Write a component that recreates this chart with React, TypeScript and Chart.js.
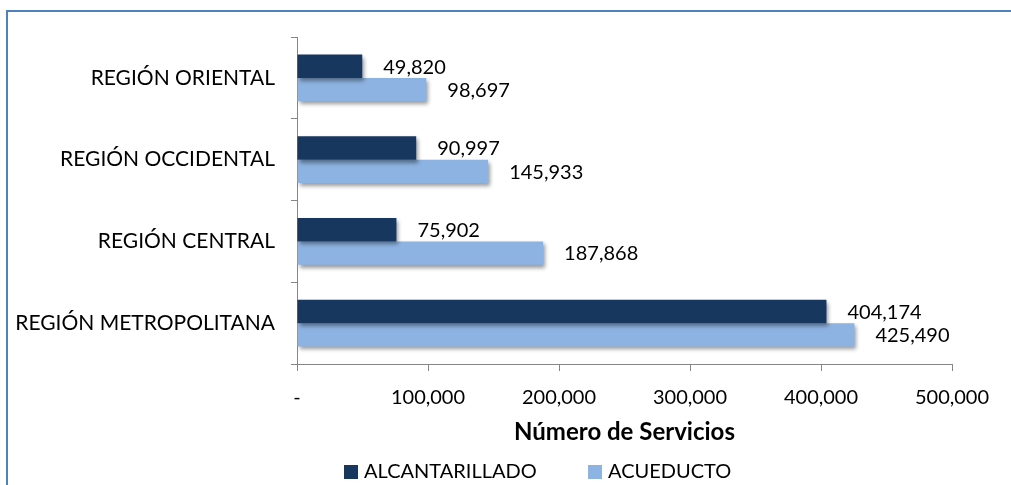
import { useEffect, useRef } from "react";
import { Chart, registerables } from "chart.js";
Chart.register(...registerables);

const categories = ["REGIÓN ORIENTAL", "REGIÓN OCCIDENTAL", "REGIÓN CENTRAL", "REGIÓN METROPOLITANA"];
const alcantarillado = [49820, 90997, 75902, 404174];
const acueducto = [98697, 145933, 187868, 425490];
const seriesNames = ["ALCANTARILLADO", "ACUEDUCTO"];
const seriesColors = ["#17375E", "#8DB3E2"];
const xMax = 500000;
const xStep = 100000;
const xTitle = "Número de Servicios";

const FONT = "Lato";
const FS = 20;
const fmt = (v: number) => (v === 0 ? "-" : v.toLocaleString("en-US"));

export default function App() {
  const ref = useRef<HTMLCanvasElement>(null);
  useEffect(() => {
    const canvas = ref.current!;
    const borderPlugin = {
      id: "border",
      beforeDraw(chart: any) {
        const ctx = chart.ctx;
        ctx.save();
        ctx.fillStyle = "#fff";
        ctx.fillRect(0, 0, chart.width, chart.height);
        ctx.strokeStyle = "#4F81BD";
        ctx.lineWidth = 2;
        ctx.beginPath();
        ctx.moveTo(7, chart.height + 5);
        ctx.lineTo(7, 11);
        ctx.lineTo(chart.width + 5, 11);
        ctx.stroke();
        ctx.restore();
      },
    };
    const shadowPlugin = {
      id: "shadow",
      beforeDatasetsDraw(chart: any) {
        const ctx = chart.ctx;
        ctx.save();
        ctx.shadowColor = "rgba(0,0,0,0.4)";
        ctx.shadowBlur = 4;
        ctx.shadowOffsetX = 2;
        ctx.shadowOffsetY = 3;
      },
      afterDatasetsDraw(chart: any) {
        chart.ctx.restore();
      },
    };
    const labelPlugin = {
      id: "labels",
      afterDraw(chart: any) {
        const ctx = chart.ctx;
        ctx.save();
        ctx.font = `${FS}px ${FONT}`;
        ctx.fillStyle = "#000";
        ctx.textAlign = "left";
        ctx.textBaseline = "middle";
        chart.data.datasets.forEach((ds: any, di: number) => {
          const meta = chart.getDatasetMeta(di);
          meta.data.forEach((bar: any, i: number) => {
            ctx.fillText(fmt(ds.data[i]), bar.x + 21, bar.y + 1);
          });
        });
        // legend
        const items = [
          { x: 344, tx: 364 },
          { x: 588, tx: 608 },
        ];
        const ly = 472;
        items.forEach((it, i) => {
          ctx.fillStyle = seriesColors[i];
          ctx.fillRect(it.x, ly - 7, 14, 14);
          ctx.fillStyle = "#000";
          ctx.fillText(seriesNames[i], it.tx, ly);
        });
        ctx.restore();
      },
    };
    const chart = new Chart(canvas, {
      type: "bar",
      data: {
        labels: categories,
        datasets: [
          { label: seriesNames[0], data: alcantarillado, backgroundColor: seriesColors[0] },
          { label: seriesNames[1], data: acueducto, backgroundColor: seriesColors[1] },
        ],
      },
      options: {
        indexAxis: "y",
        animation: false,
        responsive: false,
        layout: { padding: { left: 8, top: 37, right: 59, bottom: 0 } },
        datasets: { bar: { categoryPercentage: 0.57, barPercentage: 1 } },
        plugins: { legend: { display: false }, tooltip: { enabled: false } },
        scales: {
          x: {
            min: 0,
            max: xMax,
            afterFit: (s: any) => {
              s.height = 121;
            },
            ticks: {
              stepSize: xStep,
              callback: (v: any) => fmt(Number(v)),
              color: "#000",
              font: { family: FONT, size: FS },
              padding: 15,
              maxRotation: 0,
            },
            grid: { drawOnChartArea: false, drawTicks: true, tickLength: 7, color: "#868686" },
            border: { color: "#868686", width: 1 },
            title: {
              display: true,
              text: xTitle,
              color: "#000",
              font: { family: FONT, size: 24, weight: "bold" },
              padding: { top: 0, bottom: 38 },
            },
          },
          y: {
            afterFit: (s: any) => {
              s.width = 289;
            },
            ticks: { color: "#000", font: { family: FONT, size: 21 }, padding: 16 },
            grid: { drawOnChartArea: false, drawTicks: true, tickLength: 6, offset: true, color: "#868686" },
            border: { color: "#868686", width: 1 },
          },
        },
      },
      plugins: [borderPlugin, shadowPlugin, labelPlugin],
    });
    return () => chart.destroy();
  }, []);
  return (
    <div style={{ position: "absolute", left: 0, top: 0, width: 1011, height: 485 }}>
      <canvas ref={ref} width={1011} height={485} style={{ display: "block" }} />
    </div>
  );
}
